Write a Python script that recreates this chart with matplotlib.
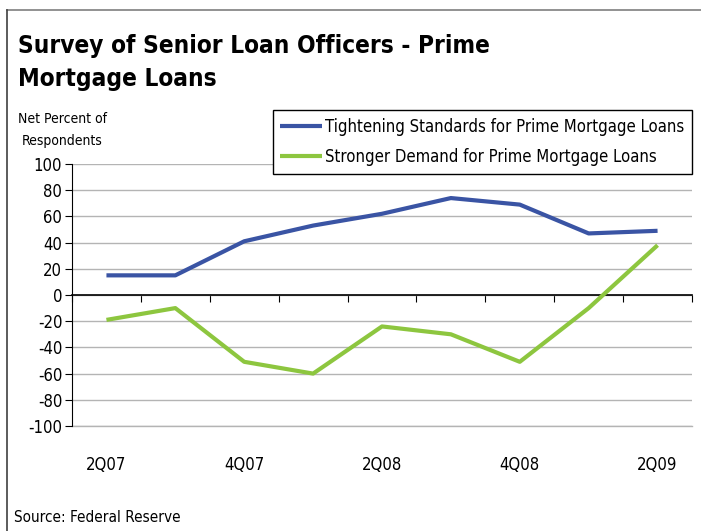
import matplotlib
matplotlib.use("Agg")
import matplotlib.pyplot as plt
import matplotlib.transforms as mtransforms
from matplotlib.lines import Line2D

# quarterly survey results, net percent of respondents
quarters = ["2Q07", "3Q07", "4Q07", "1Q08", "2Q08", "3Q08", "4Q08", "1Q09", "2Q09"]
tightening = [15, 15, 41, 53, 62, 74, 69, 47, 49]
demand = [-19, -10, -51, -60, -24, -30, -51, -10, 38]

BLUE = "#3A54A4"
GREEN = "#8DC63F"

plt.rcParams['font.family'] = ["DejaVu Sans"]
plt.rcParams['font.stretch'] = "condensed"
plt.rcParams['axes.unicode_minus'] = False

W, H = 701, 531
fig = plt.figure(figsize=(W / 100, H / 100), dpi=100)

# outer frame (top and left edges only)
fig.add_artist(Line2D([7 / W, 1], [1 - 10 / H, 1 - 10 / H], color="#7f7f7f", lw=1.2))
fig.add_artist(Line2D([7 / W, 7 / W], [0, 1 - 10 / H], color="#404040", lw=1.2))

fig.text(18 / W, 1 - 46 / H, "Survey of Senior Loan Officers - Prime", fontsize=17.5,
         fontweight="bold", va="center", ha="left")
fig.text(18 / W, 1 - 79 / H, "Mortgage Loans", fontsize=17.5,
         fontweight="bold", va="center", ha="left")
fig.text(18 / W, 1 - 119 / H, "Net Percent of", fontsize=10, va="center", ha="left")
fig.text(22 / W, 1 - 141 / H, "Respondents", fontsize=10, va="center", ha="left")
fig.text(14 / W, 1 - 517 / H, "Source: Federal Reserve", fontsize=11, va="center", ha="left")

ax = fig.add_axes([72 / W, 105 / H, 620 / W, 262 / H])
x = list(range(len(quarters)))
ax.plot(x, tightening, color=BLUE, lw=3, solid_capstyle="butt",
        label="Tightening Standards for Prime Mortgage Loans", zorder=3)
ax.plot(x, demand, color=GREEN, lw=3, solid_capstyle="butt",
        label="Stronger Demand for Prime Mortgage Loans", zorder=3)

ax.set_xlim(-0.5, len(quarters) - 0.5)
ax.set_ylim(-100, 100)
ax.set_yticks(range(-100, 101, 20))
ax.yaxis.grid(True, color="#b4b4b4", lw=1)
ax.axhline(-100, color="#b4b4b4", lw=1, clip_on=False, zorder=0.5)
ax.set_axisbelow(True)

for side in ["top", "right"]:
    ax.spines[side].set_visible(False)
ax.spines["left"].set_color("black")
ax.spines["bottom"].set_position(("data", 0))
ax.spines["bottom"].set_color("black")
ax.spines["bottom"].set_linewidth(1.2)

# category boundary ticks on the zero line
ax.set_xticks([i - 0.5 for i in range(len(quarters) + 1)])
ax.tick_params(axis="x", direction="out", length=5, labelbottom=False, color="black")
ax.tick_params(axis="y", direction="out", length=5, labelsize=12, pad=2, color="black")

# every other quarter labelled below the plot area
trans = mtransforms.blended_transform_factory(ax.transData, ax.transAxes)
for i in range(0, len(quarters), 2):
    ax.text(x[i], -0.149, quarters[i], transform=trans, ha="center", va="center", fontsize=12)

leg = ax.legend(loc="upper right", bbox_to_anchor=(1.0, 1.206), fontsize=12,
                frameon=True, fancybox=False, edgecolor="black", framealpha=1,
                handlelength=2.5, handletextpad=0.2, borderpad=0.45, labelspacing=0.75,
                borderaxespad=0)
leg.get_frame().set_linewidth(1)

fig.savefig("out.png", dpi=100, facecolor="white")
